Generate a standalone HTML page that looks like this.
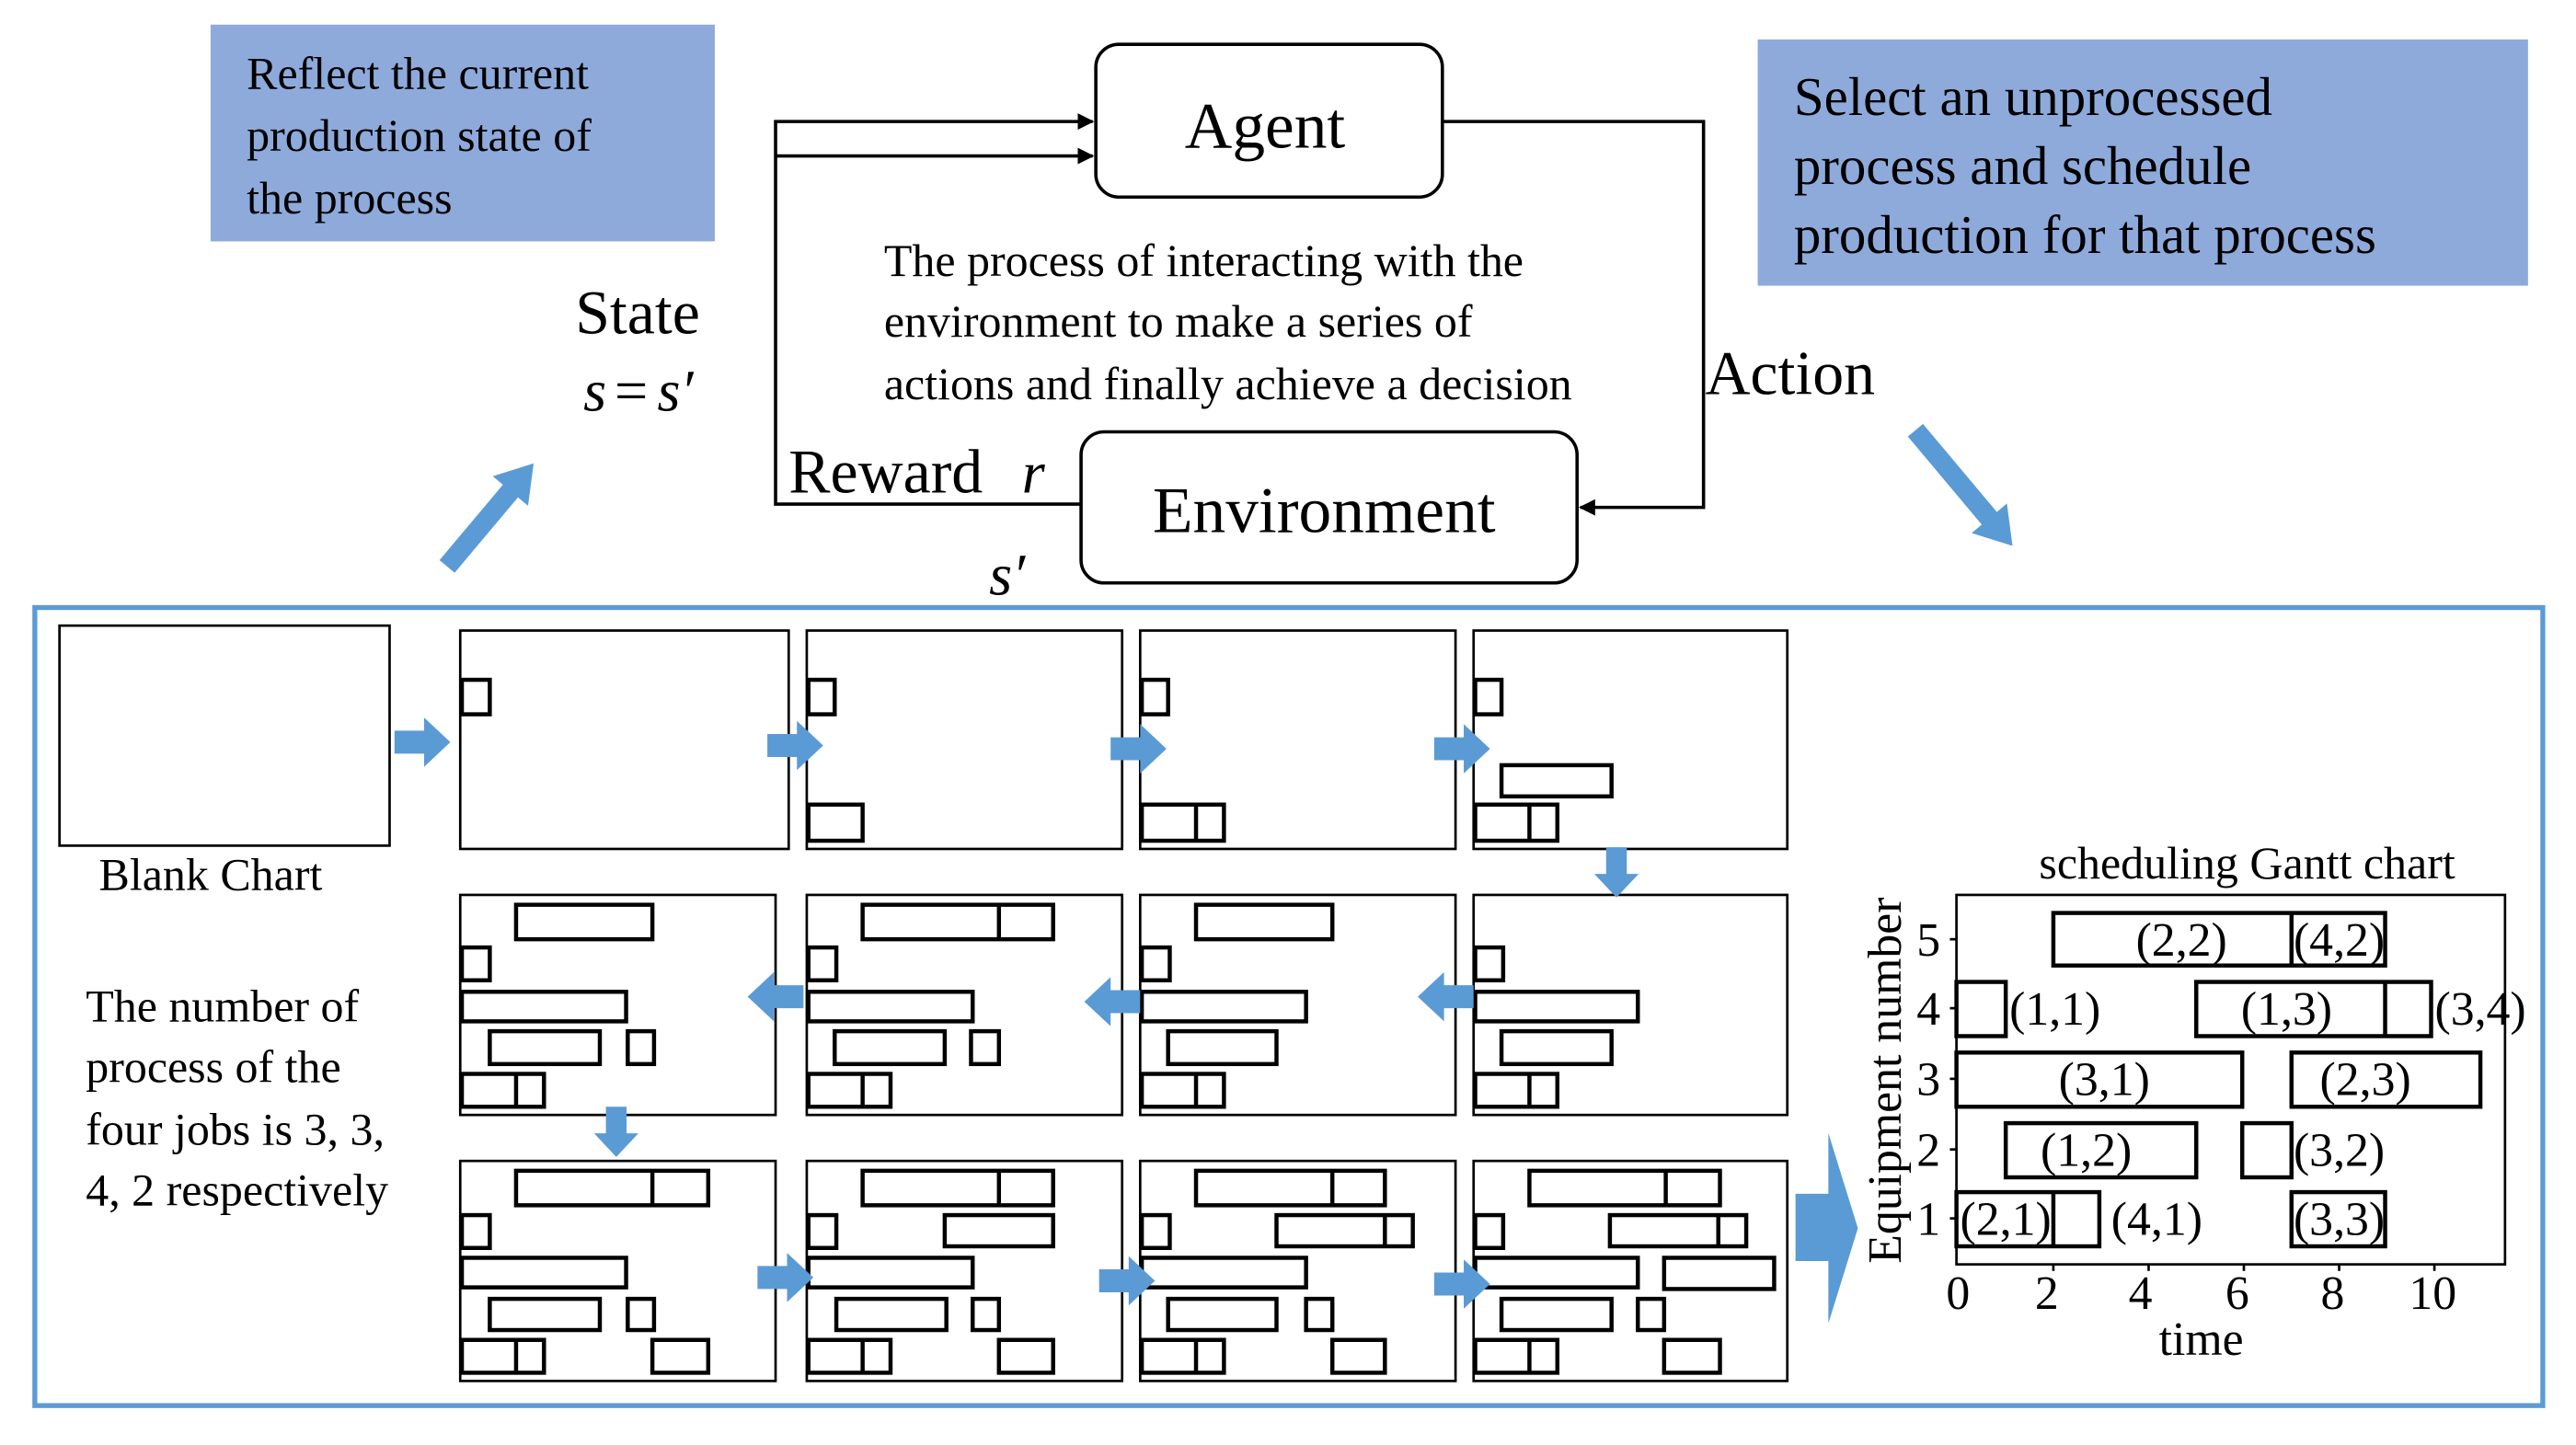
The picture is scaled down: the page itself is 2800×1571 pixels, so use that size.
<!DOCTYPE html>
<html><head><meta charset="utf-8"><style>
html,body{margin:0;padding:0;background:#fff;}
svg{display:block;}
text{font-family:"Liberation Serif",serif;fill:#000;}
</style></head><body>
<svg width="2800" height="1571" viewBox="0 0 1568 880" xmlns="http://www.w3.org/2000/svg">
<defs>
<marker id="ah" markerWidth="10" markerHeight="10" refX="9" refY="5" orient="auto" markerUnits="userSpaceOnUse">
<path d="M0,0 L10,5 L0,10 z" fill="#000"/></marker>
<g id="ar"><path d="M0,-7 H18 V-15 L34,0 L18,15 V7 H0 z" fill="#5b9bd5"/></g>
</defs>
<rect x="128" y="15" width="307" height="132" fill="#8eaadb"/>
<text x="150" y="54" font-size="28">Reflect the current</text>
<text x="150" y="92" font-size="28">production state of</text>
<text x="150" y="130" font-size="28">the process</text>
<rect x="1070" y="24" width="469" height="150" fill="#8eaadb"/>
<text x="1092" y="70" font-size="33">Select an unprocessed</text>
<text x="1092" y="112" font-size="33">process and schedule</text>
<text x="1092" y="154" font-size="33">production for that process</text>
<rect x="667" y="27" width="211" height="93" rx="14" fill="#fff" stroke="#000" stroke-width="2"/>
<text x="770" y="90" font-size="40" text-anchor="middle">Agent</text>
<rect x="658" y="263" width="302" height="92" rx="14" fill="#fff" stroke="#000" stroke-width="2"/>
<text x="806" y="324" font-size="40" text-anchor="middle">Environment</text>
<polyline points="878,74 1037,74 1037,309 962,309" fill="none" stroke="#000" stroke-width="2" marker-end="url(#ah)"/>
<polyline points="658,307 472,307 472,74 665,74" fill="none" stroke="#000" stroke-width="2" marker-end="url(#ah)"/>
<polyline points="472,95 665,95" fill="none" stroke="#000" stroke-width="2" marker-end="url(#ah)"/>
<text x="538" y="168" font-size="28">The process of interacting with the</text>
<text x="538" y="205" font-size="28">environment to make a series of</text>
<text x="538" y="243" font-size="28">actions and finally achieve a decision</text>
<text x="1038" y="240" font-size="38">Action</text>
<text x="350" y="203" font-size="38">State</text>
<text x="355" y="250" font-size="36" font-style="italic">s</text><text x="374" y="250" font-size="36">=</text><text x="400" y="250" font-size="36" font-style="italic">s′</text>
<text x="480" y="300" font-size="38">Reward</text><text x="622" y="300" font-size="36" font-style="italic">r</text>
<text x="602" y="362" font-size="36" font-style="italic">s′</text>
<g transform="translate(272,345) rotate(-50)"><path d="M0,-6 H60 V-14 L82,0 L60,14 V6 H0 z" fill="#5b9bd5"/></g>
<g transform="translate(1166,262) rotate(50)"><path d="M0,-6 H70 V-14 L92,0 L70,14 V6 H0 z" fill="#5b9bd5"/></g>
<rect x="21" y="370" width="1527" height="486" fill="none" stroke="#5b9bd5" stroke-width="3"/>
<rect x="36" y="381" width="201" height="134" fill="none" stroke="#000" stroke-width="1.5"/>
<text x="60" y="542" font-size="28">Blank Chart</text>
<text x="52" y="622" font-size="28">The number of</text>
<text x="52" y="659" font-size="28">process of the</text>
<text x="52" y="697" font-size="28">four jobs is 3, 3,</text>
<text x="52" y="734" font-size="28">4, 2 respectively</text>
<g fill="none" stroke="#000">
<g stroke-width="1.5">
<rect x="280" y="384" width="200" height="133"/><rect x="491" y="384" width="192" height="133"/><rect x="694" y="384" width="192" height="133"/><rect x="897" y="384" width="191" height="133"/>
<rect x="280" y="545" width="192" height="134"/><rect x="491" y="545" width="192" height="134"/><rect x="694" y="545" width="192" height="134"/><rect x="897" y="545" width="191" height="134"/>
<rect x="280" y="707" width="192" height="134"/><rect x="491" y="707" width="192" height="134"/><rect x="694" y="707" width="192" height="134"/><rect x="897" y="707" width="191" height="134"/>
</g>
<g stroke-width="2.5">
<rect x="281" y="414" width="17" height="21"/>
<rect x="492" y="414" width="16" height="21"/><rect x="492" y="490" width="33" height="22"/>
<rect x="695" y="414" width="16" height="21"/><rect x="695" y="490" width="50" height="22"/><line x1="728" y1="490" x2="728" y2="512"/>
<rect x="898" y="414" width="16" height="21"/><rect x="914" y="466" width="67" height="19"/><rect x="898" y="490" width="50" height="22"/><line x1="931" y1="490" x2="931" y2="512"/>
<g transform="translate(280,545)"><rect x="34" y="6" width="83" height="21"/><rect x="1" y="32" width="17" height="20"/><rect x="1" y="59" width="100" height="18"/><rect x="18" y="83" width="67" height="20"/><rect x="102" y="83" width="16" height="20"/><rect x="1" y="109" width="50" height="20"/><line x1="34" y1="109" x2="34" y2="129"/></g>
<g transform="translate(491,545)"><rect x="34" y="6" width="116" height="21"/><line x1="117" y1="6" x2="117" y2="27"/><rect x="1" y="32" width="17" height="20"/><rect x="1" y="59" width="100" height="18"/><rect x="17" y="83" width="67" height="20"/><rect x="100" y="83" width="17" height="20"/><rect x="1" y="109" width="50" height="20"/><line x1="34" y1="109" x2="34" y2="129"/></g>
<g transform="translate(694,545)"><rect x="34" y="6" width="83" height="21"/><rect x="1" y="32" width="17" height="20"/><rect x="1" y="59" width="100" height="18"/><rect x="17" y="83" width="66" height="20"/><rect x="1" y="109" width="50" height="20"/><line x1="34" y1="109" x2="34" y2="129"/></g>
<g transform="translate(897,545)"><rect x="1" y="32" width="17" height="20"/><rect x="1" y="59" width="99" height="18"/><rect x="17" y="83" width="67" height="20"/><rect x="1" y="109" width="50" height="20"/><line x1="34" y1="109" x2="34" y2="129"/></g>
<g transform="translate(280,707)"><rect x="34" y="6" width="117" height="21"/><line x1="117" y1="6" x2="117" y2="27"/><rect x="1" y="33" width="17" height="20"/><rect x="1" y="59" width="100" height="18"/><rect x="18" y="84" width="67" height="19"/><rect x="102" y="84" width="16" height="19"/><rect x="1" y="109" width="50" height="20"/><line x1="34" y1="109" x2="34" y2="129"/><rect x="117" y="109" width="34" height="20"/></g>
<g transform="translate(491,707)"><rect x="34" y="6" width="116" height="21"/><line x1="117" y1="6" x2="117" y2="27"/><rect x="1" y="33" width="17" height="20"/><rect x="84" y="33" width="66" height="19"/><rect x="1" y="59" width="100" height="18"/><rect x="18" y="84" width="67" height="19"/><rect x="101" y="84" width="16" height="19"/><rect x="1" y="109" width="50" height="20"/><line x1="34" y1="109" x2="34" y2="129"/><rect x="117" y="109" width="33" height="20"/></g>
<g transform="translate(694,707)"><rect x="34" y="6" width="115" height="21"/><line x1="117" y1="6" x2="117" y2="27"/><rect x="1" y="33" width="17" height="20"/><rect x="83" y="33" width="83" height="19"/><line x1="149" y1="33" x2="149" y2="52"/><rect x="1" y="59" width="100" height="18"/><rect x="17" y="84" width="66" height="19"/><rect x="101" y="84" width="16" height="19"/><rect x="1" y="109" width="50" height="20"/><line x1="34" y1="109" x2="34" y2="129"/><rect x="117" y="109" width="32" height="20"/></g>
<g transform="translate(897,707)"><rect x="34" y="6" width="116" height="21"/><line x1="117" y1="6" x2="117" y2="27"/><rect x="1" y="33" width="17" height="20"/><rect x="83" y="33" width="83" height="19"/><line x1="149" y1="33" x2="149" y2="52"/><rect x="1" y="59" width="99" height="18"/><rect x="116" y="59" width="67" height="19"/><rect x="17" y="84" width="67" height="19"/><rect x="100" y="84" width="16" height="19"/><rect x="1" y="109" width="50" height="20"/><line x1="34" y1="109" x2="34" y2="129"/><rect x="116" y="109" width="34" height="20"/></g>
</g>
</g>
<use href="#ar" transform="translate(240,452)"/>
<use href="#ar" transform="translate(467,454)"/>
<use href="#ar" transform="translate(676,456)"/>
<use href="#ar" transform="translate(873,456)"/>
<use href="#ar" transform="translate(984,516) rotate(90) scale(0.9)"/>
<use href="#ar" transform="translate(489,607) rotate(180)"/>
<use href="#ar" transform="translate(694,610) rotate(180)"/>
<use href="#ar" transform="translate(897,607) rotate(180)"/>
<use href="#ar" transform="translate(375,674) rotate(90) scale(0.9)"/>
<use href="#ar" transform="translate(461,778)"/>
<use href="#ar" transform="translate(669,780)"/>
<use href="#ar" transform="translate(873,782)"/>
<path d="M1093,727 H1113 V690 L1131,748 L1113,806 V768 H1093 z" fill="#5b9bd5"/>
<text x="1368" y="535" font-size="28" text-anchor="middle">scheduling Gantt chart</text>
<rect x="1191" y="545" width="334" height="225" fill="none" stroke="#000" stroke-width="1.5"/>
<g stroke="#000" stroke-width="1.5"><line x1="1187" y1="572" x2="1191" y2="572"/><line x1="1187" y1="614" x2="1191" y2="614"/><line x1="1187" y1="657" x2="1191" y2="657"/><line x1="1187" y1="700" x2="1191" y2="700"/><line x1="1187" y1="742" x2="1191" y2="742"/>
<line x1="1250" y1="770" x2="1250" y2="774"/><line x1="1308" y1="770" x2="1308" y2="774"/><line x1="1366" y1="770" x2="1366" y2="774"/><line x1="1424" y1="770" x2="1424" y2="774"/><line x1="1482" y1="770" x2="1482" y2="774"/></g>
<g font-size="29" text-anchor="middle"><text x="1174" y="582">5</text><text x="1174" y="624">4</text><text x="1174" y="667">3</text><text x="1174" y="710">2</text><text x="1174" y="752">1</text>
<text x="1192" y="797">0</text><text x="1246" y="797">2</text><text x="1303" y="797">4</text><text x="1362" y="797">6</text><text x="1420" y="797">8</text><text x="1481" y="797">10</text>
<text x="1340" y="825">time</text></g>
<text transform="translate(1157,658) rotate(-90)" font-size="29" text-anchor="middle">Equipment number</text>
<g fill="none" stroke="#000" stroke-width="2.5">
<rect x="1250" y="556" width="202" height="32"/><line x1="1395" y1="556" x2="1395" y2="588"/>
<rect x="1191" y="598" width="30" height="33"/>
<rect x="1337" y="598" width="143" height="33"/><line x1="1452" y1="598" x2="1452" y2="631"/>
<rect x="1191" y="641" width="174" height="33"/><rect x="1395" y="641" width="115" height="33"/>
<rect x="1221" y="684" width="116" height="33"/><rect x="1365" y="684" width="30" height="33"/>
<rect x="1191" y="726" width="87" height="33"/><line x1="1250" y1="726" x2="1250" y2="759"/>
<rect x="1395" y="726" width="57" height="33"/>
</g>
<g font-size="29" text-anchor="middle">
<text x="1328" y="582">(2,2)</text><text x="1424" y="582">(4,2)</text>
<text x="1251" y="624">(1,1)</text><text x="1392" y="624">(1,3)</text><text x="1510" y="624">(3,4)</text>
<text x="1281" y="667">(3,1)</text><text x="1440" y="667">(2,3)</text>
<text x="1270" y="710">(1,2)</text><text x="1424" y="710">(3,2)</text>
<text x="1221" y="752">(2,1)</text><text x="1313" y="752">(4,1)</text><text x="1424" y="752">(3,3)</text>
</g>
</svg>
</body></html>
